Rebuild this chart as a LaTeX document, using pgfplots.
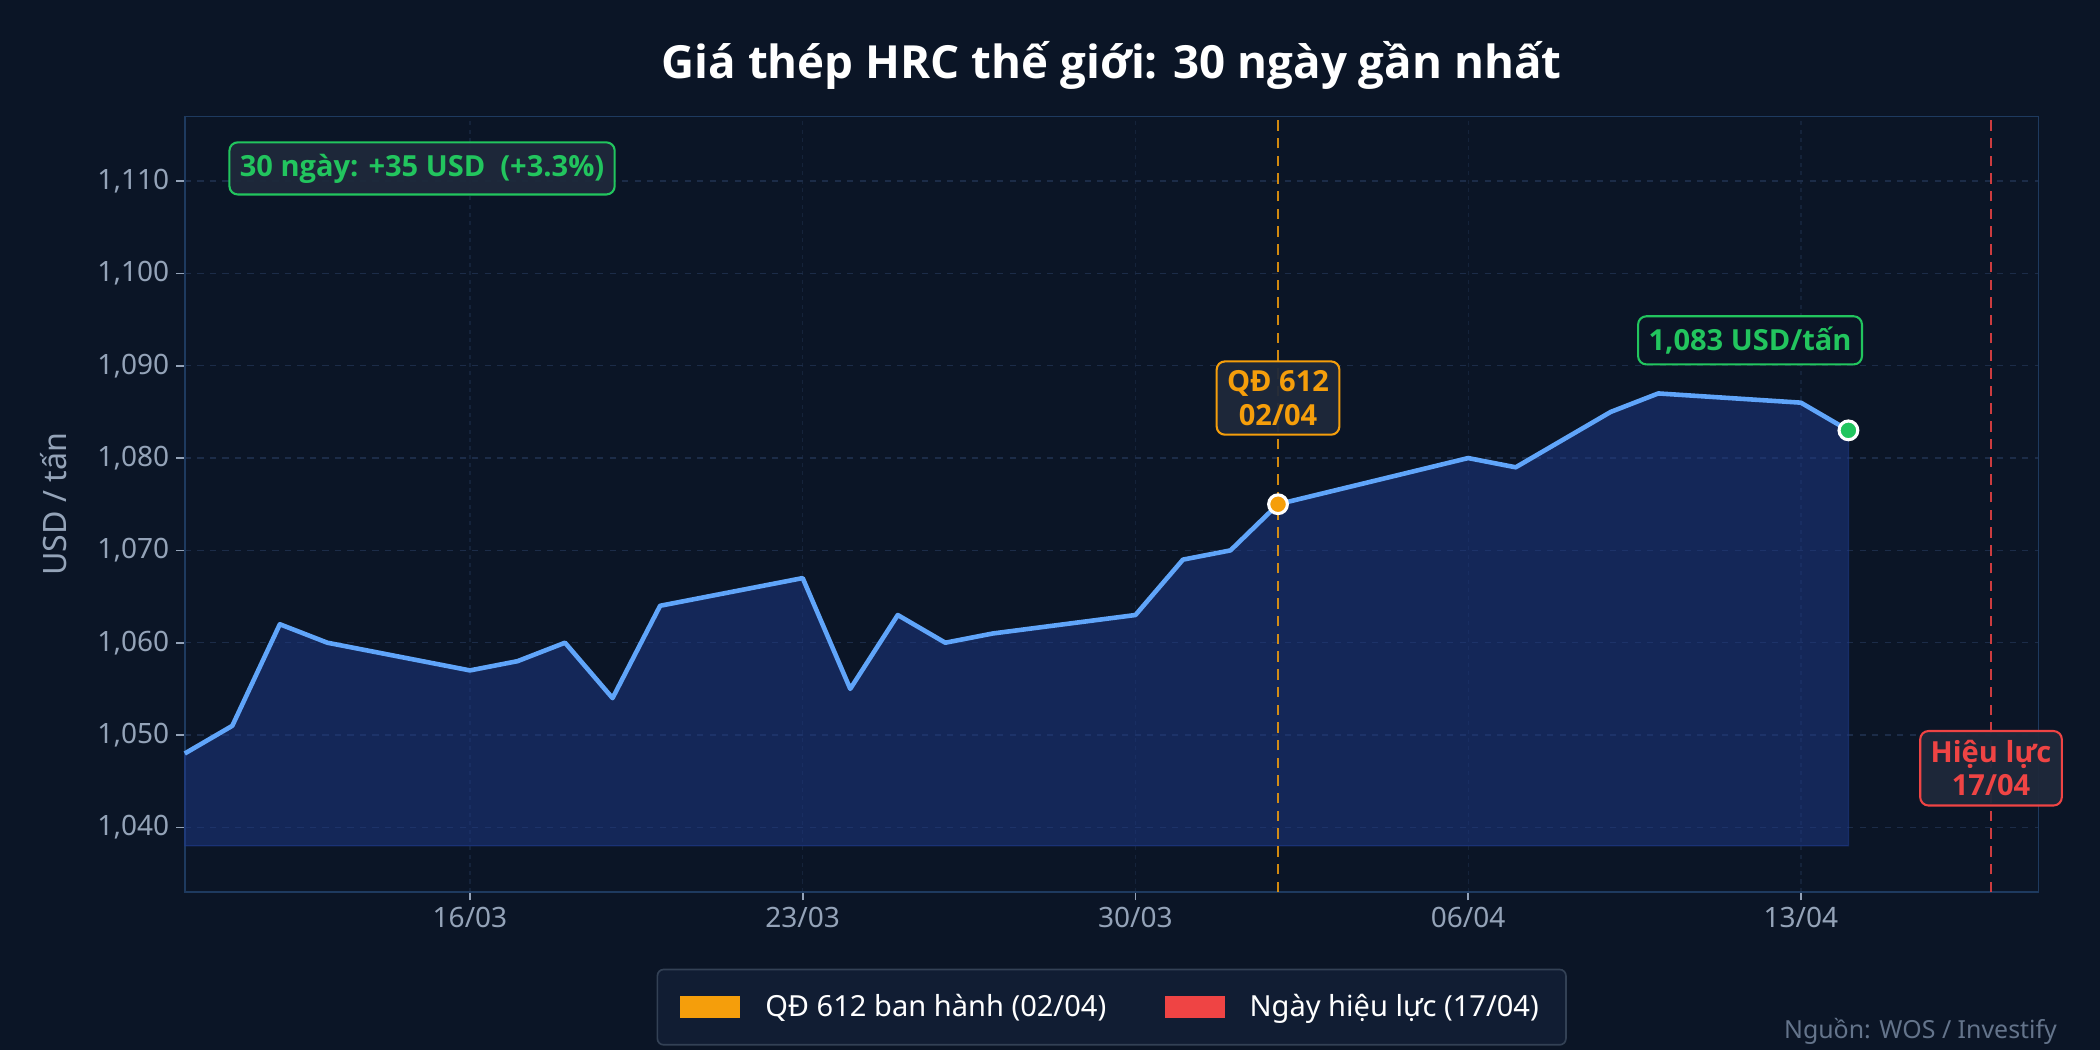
\documentclass[border=0pt]{standalone}
\usepackage{pgfplots}
\pgfplotsset{compat=1.18}
\usepackage{fontspec}
\setmainfont{Noto Sans}
\newfontfamily\bsans{Open Sans}
\newcommand{\bfx}{\bsans\bfseries}
\definecolor{bg}{HTML}{0B1526}
\definecolor{gridc}{HTML}{1C2C48}
\definecolor{spine}{HTML}{1E3A5F}
\definecolor{tickc}{HTML}{94A3B8}
\definecolor{linec}{HTML}{60A5FA}
\definecolor{fillc}{HTML}{1E3A8A}
\definecolor{orangec}{HTML}{F59E0B}
\definecolor{redc}{HTML}{EF4444}
\definecolor{greenc}{HTML}{22C55E}
\definecolor{boxbg}{HTML}{1E293B}
\definecolor{legbg}{HTML}{111D33}
\definecolor{legedge}{HTML}{334155}
\definecolor{srcc}{HTML}{64748B}
\begin{document}
\begin{tikzpicture}
\fill[bg] (-88.7bp,-75.9bp) rectangle (919.4bp,428.2bp);
\begin{axis}[
  at={(0,0)}, anchor=south west,
  scale only axis, width=889.9bp, height=372.3bp,
  xmin=-6, xmax=33, ymin=1033, ymax=1117,
  clip=false,
  axis background/.style={fill=bg},
  axis line style={spine, line width=0.8bp},
  xtick={0,7,14,21,28}, xticklabels={16/03,23/03,30/03,06/04,13/04},
  ytick={1040,1050,...,1110},
  tick pos=left, tick align=outside, major tick length=4bp,
  tick style={tickc, line width=0.8bp},
  ticklabel style={font=\fontsize{13.5}{15}\selectfont, text=tickc},
  /pgf/number format/assume math mode=true,
  /pgf/number format/1000 sep={,},
  grid=major,
  y grid style={gridc, dash pattern=on 3bp off 3bp, line width=0.7bp},
  x grid style={gridc!60!bg, dash pattern=on 2bp off 2bp, line width=0.6bp},
  ylabel={USD / tấn},
  ylabel style={at={(axis description cs:-0.0708,0.5)}, anchor=center, font=\fontsize{15.5}{17}\selectfont, text=tickc},
  title={Giá thép HRC thế giới: 30 ngày gần nhất},
  title style={at={(axis description cs:0.5,1.050)}, anchor=center, font=\bfx\fontsize{22}{26}\selectfont, text=white},
  legend style={at={(axis description cs:0.5,-0.1485)}, anchor=center,
    fill=legbg, draw=legedge, line width=0.8bp, rounded corners=3bp, text=white,
    font=\fontsize{14}{16}\selectfont, inner xsep=11bp, inner ysep=10bp,
    /tikz/every odd column/.append style={column sep=10bp},
    /tikz/every even column/.append style={column sep=26bp}},
  legend columns=2, legend cell align=left,
]
\addlegendimage{legend image code/.code={\fill[orangec, sharp corners] (0bp,-5bp) rectangle (28bp,5bp);}}
\addlegendentry{QĐ 612 ban hành (02/04)}
\addlegendimage{legend image code/.code={\fill[redc, sharp corners] (0bp,-5bp) rectangle (28bp,5bp);}}
\addlegendentry{Ngày hiệu lực (17/04)}

% area fill
\addplot[forget plot, fill=fillc, fill opacity=0.5, draw=fillc, draw opacity=0.6, line width=0.6bp] coordinates {
(-6,1048) (-5,1051) (-4,1062) (-3,1060) (0,1057) (1,1058) (2,1060) (3,1054) (4,1064)
(7,1067) (8,1055) (9,1063) (10,1060) (11,1061) (14,1063) (15,1069) (16,1070) (17,1075)
(21,1080) (22,1079) (24,1085) (25,1087) (28,1086) (29,1083) (29,1038) (-6,1038)} -- cycle;

% price line
\addplot[forget plot, linec, line width=2.2bp, line join=round] coordinates {
(-6,1048) (-5,1051) (-4,1062) (-3,1060) (0,1057) (1,1058) (2,1060) (3,1054) (4,1064)
(7,1067) (8,1055) (9,1063) (10,1060) (11,1061) (14,1063) (15,1069) (16,1070) (17,1075)
(21,1080) (22,1079) (24,1085) (25,1087) (28,1086) (29,1083)};

% vertical markers
\addplot[forget plot, orangec, draw opacity=0.85, line width=1.4bp, dash pattern=on 5bp off 3.5bp] coordinates {(17,1033) (17,1117)};
\addplot[forget plot, redc, draw opacity=0.85, line width=1.4bp, dash pattern=on 5bp off 3.5bp] coordinates {(32,1033) (32,1117)};

% highlighted points
\addplot[forget plot, only marks, mark=*, mark size=4.5bp, mark options={fill=orangec, draw=white, line width=1.5bp}] coordinates {(17,1075)};
\addplot[forget plot, only marks, mark=*, mark size=4.5bp, mark options={fill=greenc, draw=white, line width=1.5bp}] coordinates {(29,1083)};

% annotations
\node[fill=boxbg, fill opacity=0.95, text opacity=1, draw=greenc, line width=1bp, rounded corners=4bp,
  text=greenc, font=\bfx\fontsize{14}{16}\selectfont, inner xsep=5bp, inner ysep=5.5bp]
  at (axis description cs:0.128,0.933) {30 ngày: +35 USD\ \ (+3.3\%)};
\node[fill=boxbg, fill opacity=0.95, text opacity=1, draw=orangec, line width=1bp, rounded corners=4bp,
  text=orangec, font=\bfx\fontsize{14}{16}\selectfont, align=center, inner xsep=5bp, inner ysep=4.5bp]
  at (axis cs:17,1086.5) {QĐ 612\\02/04};
\node[fill=bg, fill opacity=0.95, text opacity=1, draw=greenc, line width=1bp, rounded corners=4bp,
  text=greenc, font=\bfx\fontsize{14}{16}\selectfont, inner xsep=5bp, inner ysep=5bp]
  at (axis cs:26.93,1092.75) {1,083 USD/tấn};
\node[fill=boxbg, fill opacity=0.95, text opacity=1, draw=redc, line width=1bp, rounded corners=4bp,
  text=redc, font=\bfx\fontsize{14}{16}\selectfont, align=center, inner xsep=5bp, inner ysep=4.5bp]
  at (axis cs:32,1046.4) {Hiệu lực\\17/04};
\end{axis}
\node[anchor=east, text=srcc, font=\fontsize{12}{14}\selectfont, inner sep=0pt] at (898.9bp,-66.9bp) {Nguồn: WOS / Investify};
\end{tikzpicture}
\end{document}
